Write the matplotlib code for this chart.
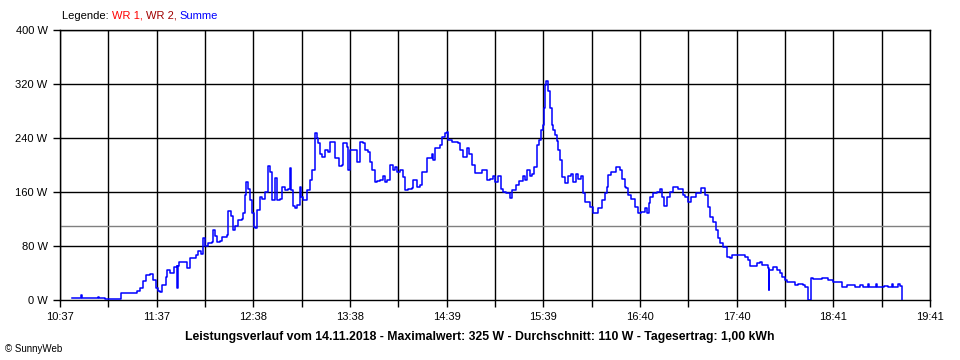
import matplotlib
matplotlib.use("Agg")
import matplotlib.pyplot as plt
from matplotlib.ticker import FixedLocator

# Zeitachse: Minuten ab 10:37, Leistung in W (Summe)
TIME_MIN = [
    7.3, 13.0, 13.5, 24.0, 24.4, 28.0, 38.0, 48.0, 50.0, 52.0, 54.0, 56.0, 58.0, 60.0,
    61.5, 62.5, 64.0, 66.0, 67.0, 68.5, 71.3, 73.0, 73.2, 73.6, 74.5, 77.0, 79.5, 81.3,
    85.0, 86.0, 88.0, 89.4, 90.5, 92.5, 95.0, 95.7, 97.0, 98.2, 100.0, 101.3, 104.4, 105.0,
    107.0, 108.2, 109.4, 111.3, 113.8, 114.4, 115.7, 116.5, 117.5, 118.8, 120.0, 121.0,
    121.9, 123.2, 125.0, 126.5, 128.2, 130.0, 131.3, 132.6, 134.4, 135.7, 137.6, 138.8,
    140.7, 142.6, 143.8, 144.5, 145.5, 146.9, 148.0, 150.0, 151.0, 151.9, 154.4, 156.3,
    157.6, 159.5, 160.7, 161.3, 162.6, 163.8, 165.7, 167.6, 168.8, 170.7, 172.0, 174.5,
    176.3, 177.0, 179.5, 180.1, 181.3, 184.5, 185.7, 187.6, 189.5, 190.7, 192.6, 193.8,
    195.1, 197.0, 198.2, 200.1, 202.0, 203.2, 204.5, 206.3, 208.2, 209.5, 210.7, 212.6,
    214.5, 215.7, 217.6, 220.1, 220.7, 223.2, 225.1, 226.4, 229.5, 232.6, 233.5, 234.5,
    237.6, 238.9, 240.7, 242.0, 242.6, 245.1, 248.9, 250.1, 252.0, 254.5, 256.0, 257.6,
    259.5, 262.6, 263.9, 265.8, 267.0, 268.9, 270.8, 272.0, 274.0, 275.5, 277.0, 279.0,
    281.4, 282.6, 285.0, 287.0, 289.5, 291.0, 292.0, 293.9, 295.0, 296.5, 298.3, 299.5,
    301.0, 302.0, 302.7, 303.3, 304.2, 305.2, 306.4, 307.6, 308.3, 309.5, 310.8, 311.4,
    312.7, 313.9, 315.8, 317.5, 319.5, 321.0, 322.5, 324.0, 325.5, 327.0, 328.3, 330.2,
    331.4, 333.5, 336.5, 338.9, 340.8, 342.0, 342.7, 344.5, 347.5, 350.2, 351.4, 353.3,
    354.2, 355.2, 357.0, 359.6, 361.4, 363.5, 366.0, 367.1, 368.3, 369.0, 371.0, 373.3,
    375.0, 376.4, 377.5, 379.6, 381.4, 383.5, 386.5, 389.5, 391.0, 392.7, 394.5, 397.5,
    400.5, 402.1, 403.3, 405.2, 406.4, 408.0, 410.0, 411.5, 412.7, 414.5, 417.1, 419.0,
    420.2, 423.3, 427.1, 428.3, 430.2, 431.5, 435.8, 437.7, 439.0, 442.1, 442.7, 443.2,
    443.6, 445.8, 448.3, 450.2, 451.5, 453.3, 454.6, 459.6, 461.5, 464.6, 465.9, 467.8,
    469.6, 470.9, 476.5, 480.2, 483.4, 489.0, 492.1, 497.1, 500.0, 502.0, 505.0, 506.0,
    510.0, 511.0, 515.0, 518.0, 520.0, 521.0, 524.0, 525.0, 526.5,
]
POWER_W = [
    3, 7, 3, 5, 3, 1.5, 11, 14, 18, 28, 37, 38, 30, 18,
    14, 12, 22, 34, 44, 40, 49, 50, 18, 50, 57, 57, 48, 62,
    66, 73, 68, 92, 80, 84, 86, 104, 95, 86, 88, 94, 96, 132,
    125, 104, 110, 118, 120, 129, 155, 175, 165, 148, 129, 108,
    107, 133, 153, 150, 160, 198, 190, 148, 181, 148, 150, 168,
    163, 165, 195, 163, 140, 136, 141, 168, 153, 148, 163, 178,
    193, 247, 240, 232, 217, 212, 222, 220, 234, 234, 210, 198,
    200, 232, 227, 193, 222, 222, 205, 234, 232, 222, 220, 205,
    193, 175, 176, 178, 183, 175, 178, 200, 193, 197, 190, 193,
    182, 163, 165, 166, 178, 168, 170, 190, 210, 217, 207, 225,
    230, 242, 247, 249, 237, 234, 232, 222, 212, 225, 217, 200,
    188, 188, 193, 193, 178, 180, 183, 175, 183, 165, 160, 158,
    151, 163, 170, 176, 183, 178, 193, 183, 187, 197, 230, 237,
    252, 259, 284, 318, 325, 309, 284, 259, 252, 244, 235, 222,
    207, 182, 173, 183, 186, 175, 187, 180, 184, 158, 145, 145,
    138, 129, 136, 148, 158, 168, 185, 190, 197, 193, 180, 168,
    166, 156, 150, 138, 129, 131, 136, 129, 144, 153, 158, 160,
    165, 153, 139, 153, 160, 168, 165, 155, 153, 145, 153, 158,
    166, 166, 156, 138, 123, 115, 103, 92, 84, 78, 64, 62,
    66, 67, 67, 64, 59, 50, 55, 57, 52, 52, 47, 15,
    44, 49, 44, 40, 34, 30, 27, 22, 24, 22, 20, 0,
    32, 31, 33, 30, 26, 20, 22, 20, 22, 20, 23, 20,
    24, 19, 21, 20, 23, 20, 24, 21, 0,
]
DURCHSCHNITT = 110

X_LABELS = ["10:37", "11:37", "12:38", "13:38", "14:39", "15:39",
            "16:40", "17:40", "18:41", "19:41"]
X_SPAN = 544  # 10:37 .. 19:41 in Minuten
Y_TICKS = [0, 80, 160, 240, 320, 400]

FONT = "Liberation Sans"

fig = plt.figure(figsize=(9.6, 3.6), dpi=100, facecolor="white")
ax = fig.add_axes([60/960, 60/360, 870/960, 270/360])

major = [X_SPAN * i / 9 for i in range(10)]
minor = [X_SPAN * (i + 0.5) / 9 for i in range(9)]

ax.set_xlim(0, X_SPAN)
ax.set_ylim(0, 400)

for x in major + minor:
    ax.axvline(x, color="black", lw=1.0, zorder=1)
for y in Y_TICKS[1:]:
    ax.axhline(y, color="black", lw=1.0, zorder=1)
ax.axhline(DURCHSCHNITT, color="#808080", lw=1.0, zorder=1)

ax.plot(TIME_MIN, POWER_W, color="#0000ff", lw=1.1,
        drawstyle="steps-post", zorder=3)

ax.xaxis.set_major_locator(FixedLocator(major))
ax.xaxis.set_minor_locator(FixedLocator(minor))
ax.set_xticklabels(X_LABELS, fontsize=8, family=FONT)
ax.set_yticks(Y_TICKS)
ax.set_yticklabels([f"{v} W" for v in Y_TICKS], fontsize=8, family=FONT)
ax.tick_params(axis="both", which="both", direction="out", length=5,
               width=1, color="black", pad=4)
ax.tick_params(axis="x", which="major", pad=4)
for s in ax.spines.values():
    s.set_color("black")
    s.set_linewidth(1.0)

# Legende oben links, mehrfarbig
renderer = fig.canvas.get_renderer()
x0 = 62 / 960
parts = [("Legende: ", "black"), ("WR 1, ", "#ff0000"),
         ("WR 2, ", "#a00000"), ("Summe", "#0000ff")]
for txt, col in parts:
    t = fig.text(x0, 1 - 16/360, txt, color=col, fontsize=8, family=FONT,
                 va="center", ha="left")
    bb = t.get_window_extent(renderer=renderer)
    x0 += bb.width / fig.bbox.width

fig.text(480/960, 1 - 337/360,
         "Leistungsverlauf vom 14.11.2018 - Maximalwert: 325 W - "
         "Durchschnitt: 110 W - Tagesertrag: 1,00 kWh",
         ha="center", va="center", fontsize=8.8, fontweight="bold", family=FONT)
fig.text(5/960, 1 - 349/360, "© SunnyWeb", ha="left", va="center",
         fontsize=7, family=FONT)

plt.savefig("out.png", dpi=100, facecolor="white")
